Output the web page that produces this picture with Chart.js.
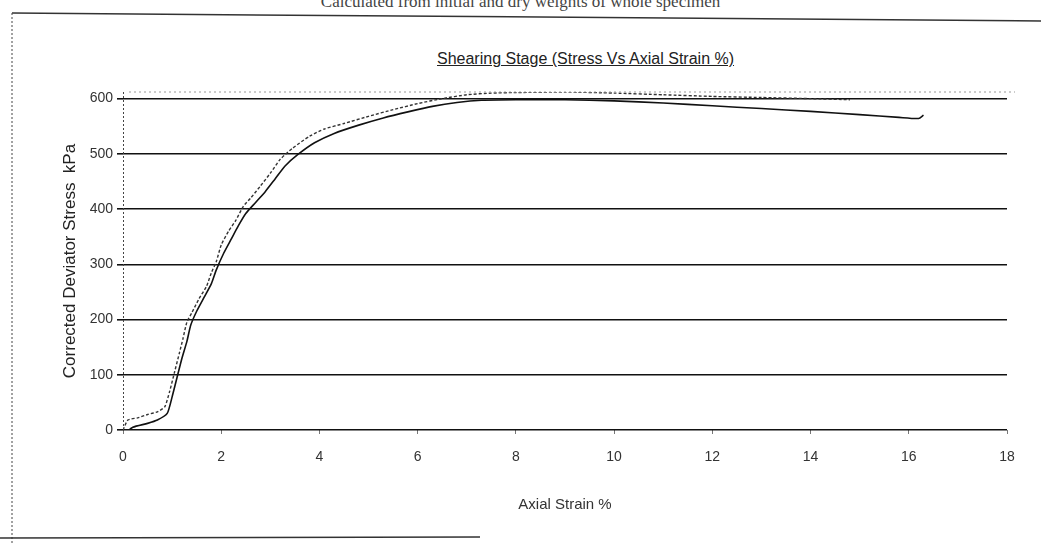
<!DOCTYPE html>
<html>
<head>
<meta charset="utf-8">
<script src="https://cdn.jsdelivr.net/npm/chart.js@4.4.0/dist/chart.umd.min.js"></script>
<style>
    body { margin: 0; background: #fff; }
    #wrap { position: relative; width: 1041px; height: 543px; overflow: hidden; background: #fff; }
    #note {
        position: absolute; top: -7px; left: 0; width: 1041px; text-align: center;
        font-family: "Liberation Serif", serif; font-size: 17px; line-height: 17px; color: #444;
    }
    #title {
        position: absolute; top: 50px; left: 437px;
        font-family: "Liberation Sans", Arial, sans-serif; font-size: 16px; color: #222;
        text-decoration: underline;
    }
    #frame { position: absolute; left: 0; top: 0; }
    #box { position: absolute; left: 0; top: 0; width: 1041px; height: 543px; }
</style>
</head>
<body>
<div id="wrap">
    <div id="note">Calculated from initial and dry weights of whole specimen</div>
    <svg id="frame" width="1041" height="543">
        <line x1="12" y1="13" x2="1041" y2="21" stroke="#333" stroke-width="1.5"/>
        <line x1="12" y1="13" x2="12" y2="543" stroke="#444" stroke-width="1" stroke-dasharray="2,2"/>
        <line x1="0" y1="538" x2="480" y2="537" stroke="#333" stroke-width="1.5"/>
    </svg>
    <div id="title">Shearing Stage (Stress Vs Axial Strain %)</div>
    <div id="box"><canvas id="stressChart"></canvas></div>
</div>
<script>
// outer (upper) trace of the scanned curve
const strainUpper = [0, 0.1, 0.3, 0.5, 0.7, 0.85, 0.95, 1.05, 1.15, 1.22, 1.3, 1.4, 1.55, 1.7, 1.8, 1.9, 2.0, 2.15, 2.3, 2.45, 2.6, 2.8, 3.0, 3.2, 3.45, 3.8, 4.1, 4.5, 5, 5.5, 6, 6.5, 7, 7.5, 8, 9, 10, 11, 12, 13, 14, 14.8];
const stressUpper = [0, 18, 22, 28, 33, 42, 70, 105, 140, 165, 195, 212, 238, 260, 285, 305, 335, 360, 380, 405, 420, 442, 465, 490, 510, 532, 545, 555, 568, 580, 591, 600, 607, 610, 611, 612, 610, 607, 604, 602, 600, 598];

// inner (lower) trace
const strainLower = [0.05, 0.2, 0.5, 0.7, 0.9, 1.0, 1.1, 1.2, 1.3, 1.38, 1.5, 1.65, 1.8, 1.9, 2.05, 2.2, 2.35, 2.5, 2.7, 2.9, 3.1, 3.3, 3.55, 3.9, 4.3, 4.8, 5.3, 5.8, 6.3, 6.8, 7.3, 8, 9, 10, 11, 12, 13, 14, 15, 15.8, 16.2, 16.3];
const stressLower = [-5, 5, 12, 18, 30, 60, 95, 130, 160, 190, 215, 240, 265, 290, 320, 345, 370, 392, 412, 432, 455, 478, 498, 520, 537, 552, 565, 576, 586, 593, 597, 598, 598, 596, 592, 587, 582, 577, 571, 566, 564, 570];

const yTicks = [0, 100, 200, 300, 400, 500, 600];

function toPoints(xs, ys) {
    return xs.map((x, i) => ({ x: x, y: ys[i] }));
}

// dotted y axis and dotted top edge of the plot, as on the printed sheet
const plotEdge = {
    id: "plotEdge",
    afterDraw(chart) {
        const { ctx, chartArea } = chart;
        ctx.save();
        ctx.lineWidth = 1;
        ctx.setLineDash([2, 2]);
        ctx.strokeStyle = "#444";
        ctx.beginPath();
        ctx.moveTo(chartArea.left + 0.5, chartArea.top);
        ctx.lineTo(chartArea.left + 0.5, chartArea.bottom);
        ctx.stroke();
        ctx.strokeStyle = "#999";
        ctx.setLineDash([2, 3]);
        ctx.beginPath();
        ctx.moveTo(chartArea.left + 6, chartArea.top);
        ctx.lineTo(chartArea.right + 8, chartArea.top);
        ctx.stroke();
        ctx.restore();
    }
};

const ctx = document.getElementById("stressChart").getContext("2d");
const stressChart = new Chart(ctx, {
    type: "line",
    data: {
        datasets: [
            {
                label: "Upper trace",
                data: toPoints(strainUpper, stressUpper),
                borderColor: "#333",
                borderWidth: 1.4,
                borderDash: [3, 2],
                pointRadius: 0,
                tension: 0.2,
                fill: false,
            },
            {
                label: "Lower trace",
                data: toPoints(strainLower, stressLower),
                borderColor: "#111",
                borderWidth: 1.6,
                pointRadius: 0,
                tension: 0.2,
                fill: false,
            }
        ],
    },
    options: {
        responsive: true,
        maintainAspectRatio: false,
        animation: false,
        layout: { padding: { top: 92, right: 34, bottom: 0, left: 0 } },
        plugins: {
            legend: { display: false },
            tooltip: { enabled: false },
        },
        scales: {
            x: {
                type: "linear",
                min: 0,
                max: 18,
                afterFit: s => { s.height = 113; },
                ticks: {
                    stepSize: 2,
                    padding: 15,
                    color: "#333",
                    font: { size: 14, family: "Liberation Sans" },
                },
                grid: { drawOnChartArea: false, tickLength: 4, tickColor: "#777" },
                border: { display: false },
                title: {
                    display: true,
                    text: "Axial Strain %",
                    color: "#333",
                    font: { size: 15, family: "Liberation Sans" },
                    padding: { top: 0, bottom: 29 },
                },
            },
            y: {
                min: 0,
                max: 612,
                afterFit: s => { s.width = 123; },
                afterBuildTicks: s => { s.ticks = yTicks.map(v => ({ value: v })); },
                ticks: {
                    padding: 4,
                    color: "#333",
                    font: { size: 14, family: "Liberation Sans" },
                },
                grid: { color: "#111", lineWidth: 1.6, tickLength: 6, tickColor: "#111" },
                border: { display: false },
                title: {
                    display: true,
                    text: "Corrected Deviator Stress  kPa",
                    color: "#222",
                    font: { size: 17, family: "Liberation Sans" },
                    padding: { top: 60, bottom: 0 },
                },
            },
        },
    },
    plugins: [plotEdge],
});
</script>
</body>
</html>
